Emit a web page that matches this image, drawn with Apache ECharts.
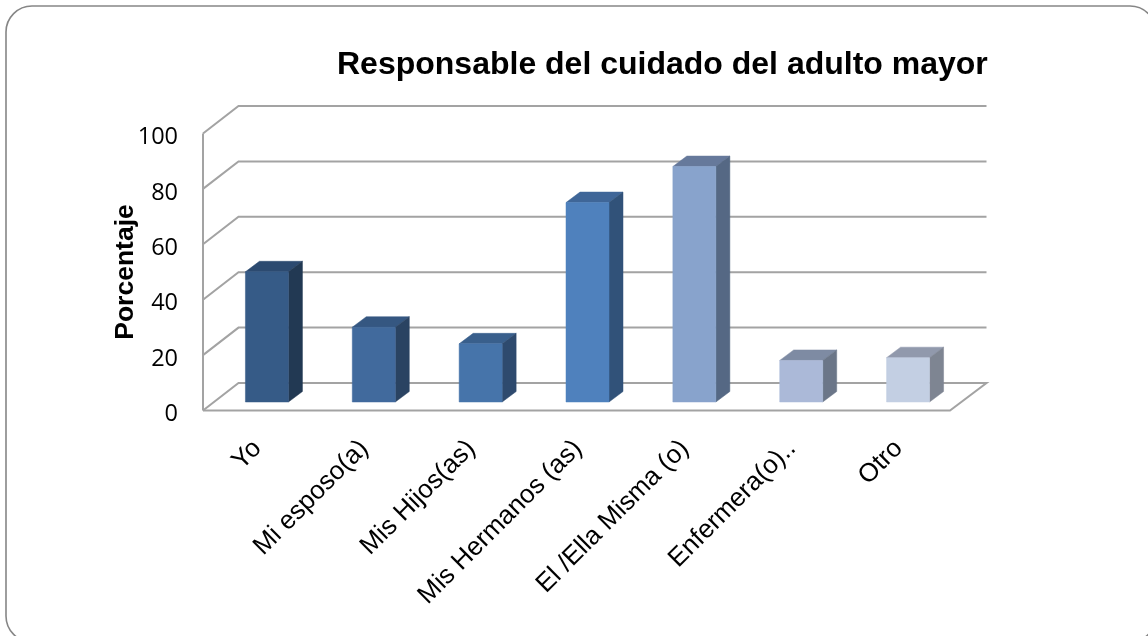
<!DOCTYPE html>
<html><head><meta charset="utf-8">
<style>html,body{margin:0;padding:0;background:#fff}#c{width:1148px;height:636px}</style>
<script src="https://cdn.jsdelivr.net/npm/echarts@6/dist/echarts.min.js"></script>
</head><body><div id="c"></div>
<script>
const categories = ['Yo','Mi esposo(a)','Mis Hijos(as)','Mis Hermanos (as)','El /Ella Misma (o)','Enfermera(o)..','Otro'];
const values = [47,27,21,72,85,15,16];
const frontColors = ['#365b87','#416a9d','#4674aa','#4f81bd','#88a3cc','#abb9d8','#c3cfe3'];
const topColors = ['#2c4a70','#355781','#395f8c','#3f6698','#66799b','#7e8ba3','#9199ac'];
const sideColors = ['#223953','#2a4362','#2e4a6e','#315279','#556884','#6b7688','#7e8592'];
const ticks = [0,20,40,60,80,100];
const DX = 35.5, DY = -27.5;
const BAR_W = 43, BAR_DX = 14, BAR_DY = -10.5, BASE_DX = 10.5, BASE_DY = -8.5;
const GRID_COLOR = '#a3a3a3';

const chart = echarts.init(document.getElementById('c'), null, {renderer:'canvas'});
function poly(pts, fill){ return {type:'polygon', shape:{points:pts}, style:{fill, stroke:fill, lineWidth:0.5}}; }
chart.setOption({
  backgroundColor:'#fff',
  animation:false,
  title:{text:'Responsable del cuidado del adulto mayor', left:332, top:44,
    textStyle:{fontFamily:'Liberation Sans',fontWeight:'bold',fontSize:32,color:'#000'}},
  grid:{left:203, top:133.5, width:748, height:277},
  xAxis:{type:'category', data:categories, axisTick:{show:false}, axisLine:{show:false},
    axisLabel:{rotate:45, interval:0, margin:33, verticalAlign:'top', lineHeight:3, fontFamily:'Liberation Sans', fontSize:26, color:'#000'}},
  yAxis:{type:'value', min:0, max:100, interval:20, splitLine:{show:false}, axisTick:{show:false}, axisLine:{show:false},
    name:'Porcentaje', nameLocation:'middle', nameGap:64, nameRotate:90, nameMoveOverlap:false,
    nameTextStyle:{fontFamily:'Liberation Sans',fontWeight:'bold',fontSize:26.5,color:'#000'},
    axisLabel:{margin:25, verticalAlign:'top', lineHeight:8, fontFamily:'Open Sans', fontSize:23.5, color:'#000'}},
  graphic:[{type:'rect', silent:true, z:-1, shape:{x:6,y:6,width:1150,height:636,r:26},
    style:{fill:'#fff',stroke:'#868686',lineWidth:1.6}}],
  series:[
    {type:'custom', silent:true, z:1, data:ticks.map(t=>[0,t]),
     renderItem(params, api){
       const p = api.coord([0, api.value(1)]);
       const band = api.size([1,0])[0];
       const x0 = p[0]-band/2, y0 = p[1];
       const right = x0+band*categories.length;
       const line = {stroke:GRID_COLOR, lineWidth:2, fill:'none'};
       const kids = [{type:'polyline', shape:{points:[[x0,y0],[x0+DX,y0+DY],[right+DX,y0+DY]]}, style:line}];
       if (api.value(1)===0) {
         kids.push({type:'polyline', shape:{points:[[x0+DX,y0+DY],[right+DX,y0+DY],[right-1,y0],[x0,y0]]}, style:line});
       }
       if (api.value(1)===100) {
         const b = api.coord([0,0]);
         kids.push({type:'line', shape:{x1:x0,y1:y0,x2:x0,y2:b[1]}, style:line});
       }
       return {type:'group', children:kids};
     }},
    {type:'custom', silent:true, z:2, data:values.map((v,i)=>[i,v]),
     renderItem(params, api){
       const i = api.value(0);
       const top = api.coord([i, api.value(1)]);
       const base = api.coord([i, 0]);
       const xl = top[0]+BASE_DX-BAR_W/2, xr = xl+BAR_W;
       const yb = base[1]+BASE_DY, yt = top[1]+BASE_DY;
       return {type:'group', children:[
         poly([[xl,yt],[xr,yt],[xr+BAR_DX,yt+BAR_DY],[xl+BAR_DX,yt+BAR_DY]], topColors[i]),
         poly([[xr,yt],[xr+BAR_DX,yt+BAR_DY],[xr+BAR_DX,yb+BAR_DY],[xr,yb]], sideColors[i]),
         poly([[xl,yb],[xr,yb],[xr,yt],[xl,yt]], frontColors[i])
       ]};
     }}
  ]
});
</script></body></html>
